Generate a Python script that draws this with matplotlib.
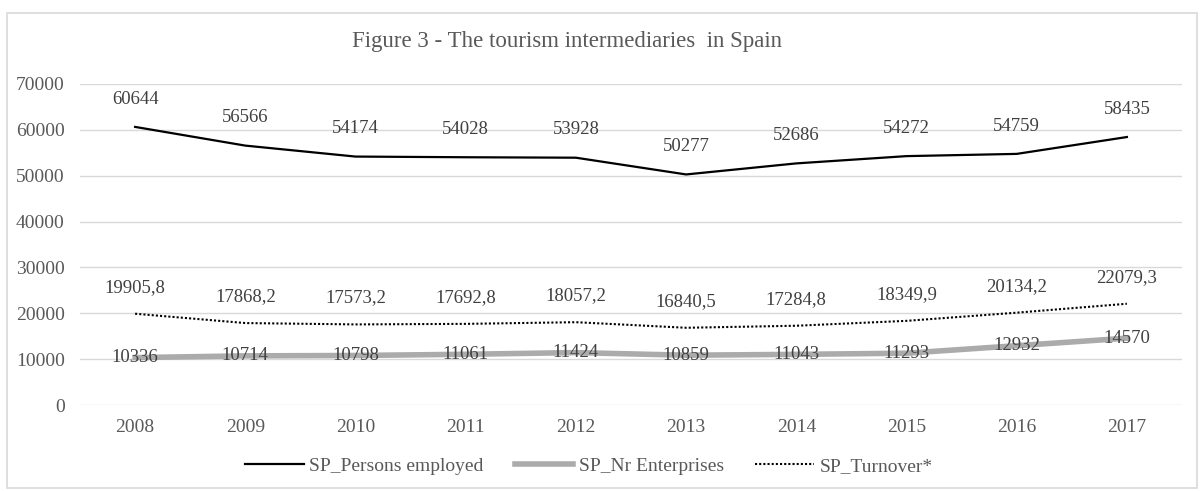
import numpy as np
import matplotlib.pyplot as plt
from matplotlib.patches import Rectangle

years = ['2008', '2009', '2010', '2011', '2012', '2013', '2014', '2015', '2016', '2017']
persons = [60644, 56566, 54174, 54028, 53928, 50277, 52686, 54272, 54759, 58435]
enterprises = [10336, 10714, 10798, 11061, 11424, 10859, 11043, 11293, 12932, 14570]
turnover = [19905.8, 17868.2, 17573.2, 17692.8, 18057.2, 16840.5, 17284.8, 18349.9, 20134.2, 22079.3]

plt.rcParams['font.family'] = ['Liberation Serif', 'DejaVu Serif']
txt = '#595959'
lab = '#404040'

fig = plt.figure(figsize=(12.03, 4.91), dpi=100)
fig.patches.append(Rectangle((7/1203, 3/491), 1190/1203, 475/491, transform=fig.transFigure,
                             fill=False, edgecolor='#d9d9d9', linewidth=1.2))
ax = fig.add_axes([80/1203, 1-405/491, 1102/1203, 321/491])

x = np.arange(len(years))
ax.plot(x, persons, color='black', lw=1.6, label='SP_Persons employed', zorder=3)
ax.plot(x, enterprises, color='#ababab', lw=4, label='SP_Nr Enterprises', zorder=3)
ax.plot(x, turnover, color='black', lw=1.5, ls=(0, (1, 1)), label='SP_Turnover*', zorder=3)

for i in x:
    ax.annotate(str(persons[i]), (i, persons[i]), xytext=(0, 20), textcoords='offset points',
                ha='center', va='center', fontsize=13.5, color=lab)
    ax.annotate('{0:.1f}'.format(turnover[i]).replace('.', ','), (i, turnover[i]), xytext=(0, 19),
                textcoords='offset points', ha='center', va='center', fontsize=13.5, color=lab)
    ax.annotate(str(enterprises[i]), (i, enterprises[i]), ha='center', va='center',
                fontsize=13.5, color=lab, zorder=4)

ax.set_xlim(-0.5, 9.5)
ax.set_ylim(0, 70000)
ax.set_yticks(np.arange(0, 70001, 10000))
ax.set_xticks(x)
ax.set_xticklabels(years)
ax.tick_params(length=0, labelsize=14, labelcolor=txt, pad=10)
ax.tick_params(axis='y', pad=11)
ax.grid(axis='y', color='#d9d9d9', lw=1)
ax.set_axisbelow(True)
for s in ax.spines.values():
    s.set_visible(False)

fig.text(567/1203, 1-42/491, 'Figure 3 - The tourism intermediaries  in Spain', ha='center', va='center',
         fontsize=16.5, color=txt)
fig.legend(loc='center', bbox_to_anchor=(589/1203, 1-466/491), ncol=3, frameon=False, fontsize=14,
           labelcolor=txt, handlelength=3.0, handletextpad=0.3, columnspacing=1.6)

fig.savefig('out.png', dpi=100)
